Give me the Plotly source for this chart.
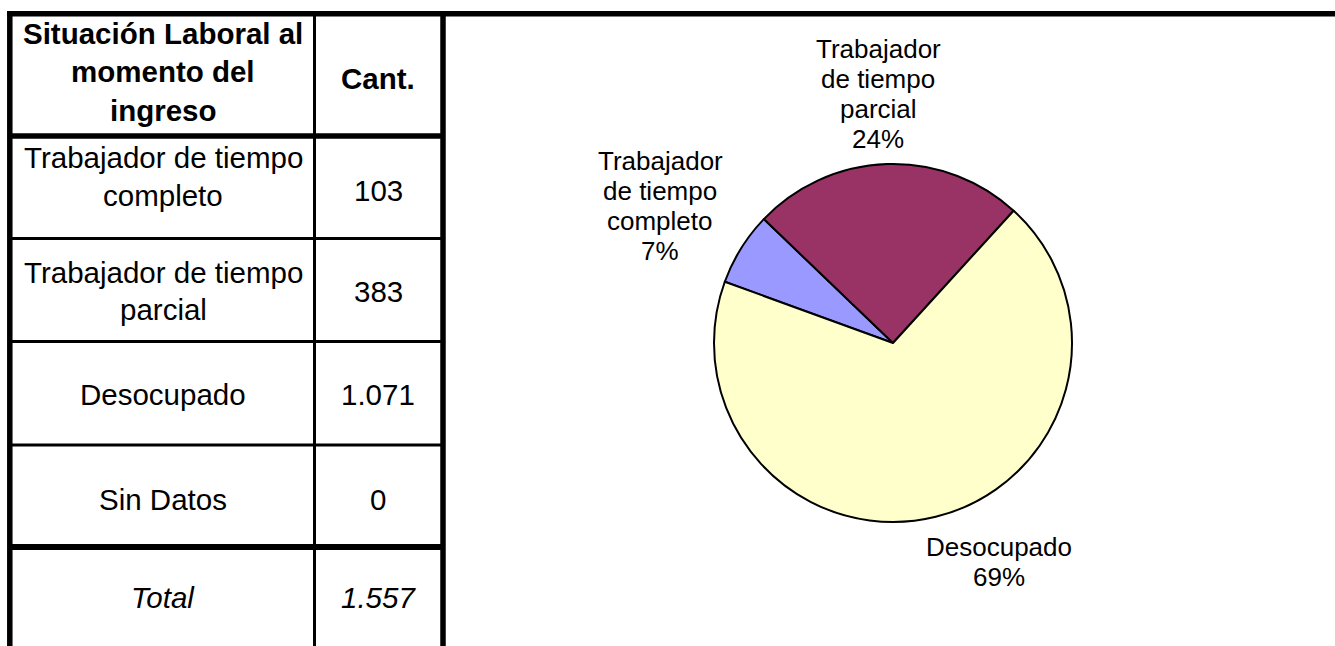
import plotly.graph_objects as go

# ---- data ----
header_label = ["Situación Laboral al", "momento del", "ingreso"]
header_count = "Cant."
categories = ["Trabajador de tiempo completo", "Trabajador de tiempo parcial", "Desocupado", "Sin Datos"]
table_labels = [["Trabajador de tiempo", "completo"], ["Trabajador de tiempo", "parcial"], ["Desocupado"], ["Sin Datos"]]
counts = [103, 383, 1071, 0]
count_text = ["103", "383", "1.071", "0"]
total_label = "Total"
total_text = "1.557"
pie_labels = [["Trabajador", "de tiempo", "completo"], ["Trabajador", "de tiempo", "parcial"], ["Desocupado"]]
pie_pct_text = ["7%", "24%", "69%"]
pie_colors = ["#9999FF", "#993366", "#FFFFCC"]

W, H = 1335, 646
FONT = "Liberation Sans, Arial, sans-serif"

fig = go.Figure()

# pie (only non-zero categories)
pv = [(c, v) for c, v in zip(categories, counts) if v > 0]
cx, cy, r = 893, 343, 179
fig.add_trace(go.Pie(
    labels=[p[0] for p in pv], values=[p[1] for p in pv],
    sort=False, direction="clockwise", rotation=290,
    marker=dict(colors=pie_colors, line=dict(color="black", width=2)),
    textinfo="none", hoverinfo="label+percent", showlegend=False,
    domain=dict(x=[(cx - r) / W, (cx + r) / W], y=[1 - (cy + r) / H, 1 - (cy - r) / H]),
))

fig.update_layout(
    width=W, height=H, margin=dict(l=0, r=0, t=0, b=0),
    paper_bgcolor="white", plot_bgcolor="rgba(0,0,0,0)",
    xaxis=dict(range=[0, W], visible=False, fixedrange=True, domain=[0, 1]),
    yaxis=dict(range=[H, 0], visible=False, fixedrange=True, domain=[0, 1]),
    font=dict(family=FONT, color="black"),
)

def line(x0, y0, x1, y1, w):
    fig.add_shape(type="line", x0=x0, y0=y0, x1=x1, y1=y1, xref="x", yref="y",
                  line=dict(color="black", width=w), layer="above")

# table grid
L, C, R = 9.8, 314.5, 443
top = 13.8
line(7, top, W, top, 5.5)          # top rule across the page
line(L, 11, L, H, 5.5)             # left border
line(R, 11, R, H, 5.5)             # right border
line(C, top, C, H, 3)              # column divider
line(L, 136, R, 136, 5.5)          # header bottom
for yy in [238.5, 341.5, 445]:
    line(L, yy, R, yy, 3)
line(L, 547, R, 547, 6)            # before total

def txt(x, y, s, size=29.5, bold=False, italic=False):
    if bold:
        s = "<b>" + s + "</b>"
    if italic:
        s = "<i>" + s + "</i>"
    fig.add_annotation(x=x, y=y, xref="x", yref="y", text=s, showarrow=False,
                       xanchor="center", yanchor="middle", align="center",
                       font=dict(family=FONT, size=size, color="black"))

def block(x, ys, lines, **kw):
    for y, s in zip(ys, lines):
        txt(x, y, s, **kw)

c1, c2 = 163, 378
block(c1, [33, 71, 110], header_label, bold=True)
txt(c2, 78, header_count, bold=True)
row_lines_y = [[157, 195], [272, 309], [394], [499]]
row_count_y = [190, 291, 394, 499]
for ys, yc, lab, ct in zip(row_lines_y, row_count_y, table_labels, count_text):
    block(c1, ys, lab)
    txt(c2, yc, ct)
txt(c1, 597, total_label, italic=True)
txt(c2, 597, total_text, italic=True)

# pie labels
label_x = [660, 878, 999]
label_y0 = [161, 49, 547]
for x, y0, lab, pct in zip(label_x, label_y0, pie_labels, pie_pct_text):
    lines = lab + [pct]
    block(x, [y0 + 30 * i for i in range(len(lines))], lines, size=26)

fig.write_html("out.html", config={"displayModeBar": False},
               post_script="document.body.style.margin='0px';document.body.style.overflow='hidden';")
